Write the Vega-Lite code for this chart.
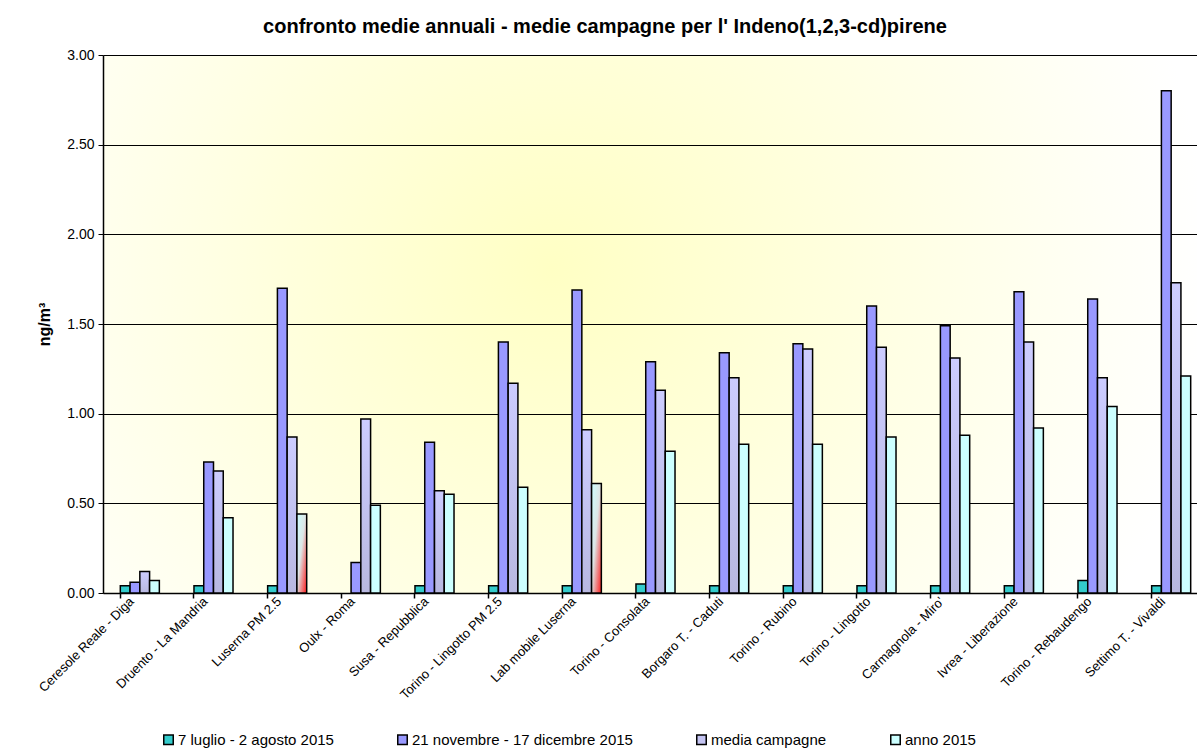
{
  "$schema": "https://vega.github.io/schema/vega-lite/v6.json",
  "width": 1094,
  "height": 538,
  "autosize": {"type": "none"},
  "padding": {"left": 103, "top": 55, "right": 0, "bottom": 156},
  "background": "white",
  "title": {
    "text": "confronto medie annuali - medie campagne per l' Indeno(1,2,3-cd)pirene",
    "font": "Liberation Sans",
    "fontSize": 20,
    "fontWeight": "bold",
    "color": "black",
    "anchor": "middle",
    "dx": -45,
    "offset": 11
  },
  "config": {
    "font": "Liberation Sans",
    "view": {
      "stroke": null,
      "fill": {
        "gradient": "radial",
        "x1": 0.41, "y1": 0.45, "x2": 0.41, "y2": 0.45,
        "r1": 0, "r2": 0.6,
        "stops": [
          {"offset": 0, "color": "#FFFFC4"},
          {"offset": 0.5, "color": "#FFFFE2"},
          {"offset": 1, "color": "#FFFFFF"}
        ]
      }
    }
  },
  "data": {
    "values": [
      {"stazione": "Ceresole Reale - Diga", "serie": "7 luglio - 2 agosto 2015", "valore": 0.04},
      {"stazione": "Ceresole Reale - Diga", "serie": "21 novembre - 17 dicembre 2015", "valore": 0.06},
      {"stazione": "Ceresole Reale - Diga", "serie": "media campagne", "valore": 0.12},
      {"stazione": "Ceresole Reale - Diga", "serie": "anno 2015", "valore": 0.07},
      {"stazione": "Druento - La Mandria", "serie": "7 luglio - 2 agosto 2015", "valore": 0.04},
      {"stazione": "Druento - La Mandria", "serie": "21 novembre - 17 dicembre 2015", "valore": 0.73},
      {"stazione": "Druento - La Mandria", "serie": "media campagne", "valore": 0.68},
      {"stazione": "Druento - La Mandria", "serie": "anno 2015", "valore": 0.42},
      {"stazione": "Luserna PM 2.5", "serie": "7 luglio - 2 agosto 2015", "valore": 0.04},
      {"stazione": "Luserna PM 2.5", "serie": "21 novembre - 17 dicembre 2015", "valore": 1.70},
      {"stazione": "Luserna PM 2.5", "serie": "media campagne", "valore": 0.87},
      {"stazione": "Luserna PM 2.5", "serie": "anno 2015", "valore": 0.44},
      {"stazione": "Oulx - Roma", "serie": "21 novembre - 17 dicembre 2015", "valore": 0.17},
      {"stazione": "Oulx - Roma", "serie": "media campagne", "valore": 0.97},
      {"stazione": "Oulx - Roma", "serie": "anno 2015", "valore": 0.49},
      {"stazione": "Susa - Repubblica", "serie": "7 luglio - 2 agosto 2015", "valore": 0.04},
      {"stazione": "Susa - Repubblica", "serie": "21 novembre - 17 dicembre 2015", "valore": 0.84},
      {"stazione": "Susa - Repubblica", "serie": "media campagne", "valore": 0.57},
      {"stazione": "Susa - Repubblica", "serie": "anno 2015", "valore": 0.55},
      {"stazione": "Torino - Lingotto PM 2.5", "serie": "7 luglio - 2 agosto 2015", "valore": 0.04},
      {"stazione": "Torino - Lingotto PM 2.5", "serie": "21 novembre - 17 dicembre 2015", "valore": 1.40},
      {"stazione": "Torino - Lingotto PM 2.5", "serie": "media campagne", "valore": 1.17},
      {"stazione": "Torino - Lingotto PM 2.5", "serie": "anno 2015", "valore": 0.59},
      {"stazione": "Lab mobile Luserna", "serie": "7 luglio - 2 agosto 2015", "valore": 0.04},
      {"stazione": "Lab mobile Luserna", "serie": "21 novembre - 17 dicembre 2015", "valore": 1.69},
      {"stazione": "Lab mobile Luserna", "serie": "media campagne", "valore": 0.91},
      {"stazione": "Lab mobile Luserna", "serie": "anno 2015", "valore": 0.61},
      {"stazione": "Torino - Consolata", "serie": "7 luglio - 2 agosto 2015", "valore": 0.05},
      {"stazione": "Torino - Consolata", "serie": "21 novembre - 17 dicembre 2015", "valore": 1.29},
      {"stazione": "Torino - Consolata", "serie": "media campagne", "valore": 1.13},
      {"stazione": "Torino - Consolata", "serie": "anno 2015", "valore": 0.79},
      {"stazione": "Borgaro T. - Caduti", "serie": "7 luglio - 2 agosto 2015", "valore": 0.04},
      {"stazione": "Borgaro T. - Caduti", "serie": "21 novembre - 17 dicembre 2015", "valore": 1.34},
      {"stazione": "Borgaro T. - Caduti", "serie": "media campagne", "valore": 1.20},
      {"stazione": "Borgaro T. - Caduti", "serie": "anno 2015", "valore": 0.83},
      {"stazione": "Torino - Rubino", "serie": "7 luglio - 2 agosto 2015", "valore": 0.04},
      {"stazione": "Torino - Rubino", "serie": "21 novembre - 17 dicembre 2015", "valore": 1.39},
      {"stazione": "Torino - Rubino", "serie": "media campagne", "valore": 1.36},
      {"stazione": "Torino - Rubino", "serie": "anno 2015", "valore": 0.83},
      {"stazione": "Torino - Lingotto", "serie": "7 luglio - 2 agosto 2015", "valore": 0.04},
      {"stazione": "Torino - Lingotto", "serie": "21 novembre - 17 dicembre 2015", "valore": 1.60},
      {"stazione": "Torino - Lingotto", "serie": "media campagne", "valore": 1.37},
      {"stazione": "Torino - Lingotto", "serie": "anno 2015", "valore": 0.87},
      {"stazione": "Carmagnola - Miro'", "serie": "7 luglio - 2 agosto 2015", "valore": 0.04},
      {"stazione": "Carmagnola - Miro'", "serie": "21 novembre - 17 dicembre 2015", "valore": 1.49},
      {"stazione": "Carmagnola - Miro'", "serie": "media campagne", "valore": 1.31},
      {"stazione": "Carmagnola - Miro'", "serie": "anno 2015", "valore": 0.88},
      {"stazione": "Ivrea - Liberazione", "serie": "7 luglio - 2 agosto 2015", "valore": 0.04},
      {"stazione": "Ivrea - Liberazione", "serie": "21 novembre - 17 dicembre 2015", "valore": 1.68},
      {"stazione": "Ivrea - Liberazione", "serie": "media campagne", "valore": 1.40},
      {"stazione": "Ivrea - Liberazione", "serie": "anno 2015", "valore": 0.92},
      {"stazione": "Torino - Rebaudengo", "serie": "7 luglio - 2 agosto 2015", "valore": 0.07},
      {"stazione": "Torino - Rebaudengo", "serie": "21 novembre - 17 dicembre 2015", "valore": 1.64},
      {"stazione": "Torino - Rebaudengo", "serie": "media campagne", "valore": 1.20},
      {"stazione": "Torino - Rebaudengo", "serie": "anno 2015", "valore": 1.04},
      {"stazione": "Settimo T. - Vivaldi", "serie": "7 luglio - 2 agosto 2015", "valore": 0.04},
      {"stazione": "Settimo T. - Vivaldi", "serie": "21 novembre - 17 dicembre 2015", "valore": 2.80},
      {"stazione": "Settimo T. - Vivaldi", "serie": "media campagne", "valore": 1.73},
      {"stazione": "Settimo T. - Vivaldi", "serie": "anno 2015", "valore": 1.21}
    ]
  },
  "layer": [
    {
      "mark": {"type": "bar", "stroke": "black", "strokeWidth": 1.5},
      "encoding": {
        "x": {
          "field": "stazione",
          "type": "nominal",
          "sort": null,
          "scale": {"range": [0, 1105], "paddingInner": 0.47, "paddingOuter": 0.235},
          "axis": {
            "orient": "bottom",
            "title": null,
            "ticks": false,
            "domain": true,
            "domainColor": "black",
            "domainWidth": 1.5,
            "labelAngle": -45,
            "labelAlign": "right",
            "labelBaseline": "middle",
            "labelFontSize": 13,
            "labelColor": "black",
            "labelPadding": 6,
            "labelOffset": -8,
            "labelLimit": 300
          }
        },
        "xOffset": {
          "field": "serie",
          "type": "nominal",
          "sort": ["7 luglio - 2 agosto 2015", "21 novembre - 17 dicembre 2015", "media campagne", "anno 2015"]
        },
        "y": {
          "field": "valore",
          "type": "quantitative",
          "scale": {"domain": [0, 3], "nice": false},
          "axis": {
            "values": [0, 0.5, 1, 1.5, 2, 2.5, 3],
            "format": ".2f",
            "title": "ng/m³",
            "titleFontSize": 16,
            "titleFontWeight": "bold",
            "titleColor": "black",
            "titlePadding": 14,
            "labelFontSize": 14,
            "labelColor": "black",
            "labelPadding": 4,
            "grid": true,
            "gridColor": "black",
            "gridWidth": 1,
            "domainColor": "black",
            "domainWidth": 1.5,
            "tickColor": "black",
            "tickSize": 5
          }
        },
        "fill": {
          "condition": [
            {
              "test": "datum.serie === 'anno 2015' && (datum.stazione === 'Luserna PM 2.5' || datum.stazione === 'Lab mobile Luserna')",
              "value": {
                "gradient": "linear",
                "x1": 0, "y1": 0, "x2": 1, "y2": 1,
                "stops": [
                  {"offset": 0, "color": "#CCFFFF"},
                  {"offset": 0.45, "color": "#DDE6E6"},
                  {"offset": 1, "color": "#FF1A1A"}
                ]
              }
            },
            {
              "test": "datum.serie === 'media campagne'",
              "value": {
                "gradient": "linear",
                "x1": 0, "y1": 0, "x2": 0, "y2": 1,
                "stops": [
                  {"offset": 0, "color": "#CCCCFF"},
                  {"offset": 1, "color": "#B8B8E0"}
                ]
              }
            }
          ],
          "field": "serie",
          "type": "nominal",
          "scale": {
            "domain": ["7 luglio - 2 agosto 2015", "21 novembre - 17 dicembre 2015", "media campagne", "anno 2015"],
            "range": ["#33CCCC", "#9999FF", "#C4C4F2", "#CCFFFF"]
          },
          "legend": {
            "orient": "none",
            "legendX": 58,
            "legendY": 677,
            "direction": "horizontal",
            "title": null,
            "labelFontSize": 15,
            "labelColor": "black",
            "labelOffset": 2,
            "labelLimit": 400,
            "symbolType": "square",
            "symbolSize": 90,
            "symbolStrokeColor": "black",
            "symbolStrokeWidth": 1.5,
            "columnPadding": 60
          }
        }
      }
    },
    {
      "mark": {"type": "tick", "opacity": 0},
      "encoding": {
        "x": {
          "field": "stazione",
          "type": "nominal",
          "sort": null,
          "axis": {
            "orient": "bottom",
            "title": null,
            "labels": false,
            "domain": false,
            "grid": false,
            "ticks": true,
            "tickColor": "black",
            "tickWidth": 1.5,
            "tickSize": 5,
            "bandPosition": 0
          }
        },
        "y": {"field": "valore", "type": "quantitative"}
      }
    }
  ],
  "resolve": {"axis": {"x": "independent"}}
}
